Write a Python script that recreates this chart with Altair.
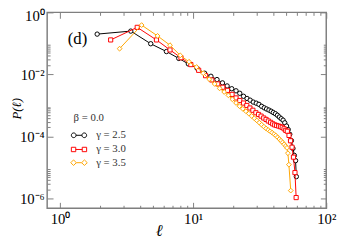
import altair as alt
import pandas as pd

FONT = "Liberation Serif"

# ---- data (l, P(l)) ----
L_G25 = [1.9, 3.4, 4.8, 6.3, 7.8, 9.2, 10.7, 12.2, 13.6, 15.1, 16.6, 18.0, 19.5, 21.0, 22.4,
         23.9, 25.4, 26.8, 28.3, 29.8, 31.2, 32.7, 34.2, 35.6, 37.1, 38.6, 40.0, 41.5, 43.0,
         44.4, 45.9, 47.4, 48.8, 50.3, 51.8, 53.2, 54.7, 56.2, 57.6, 58.8, 59.6]
P_G25 = [0.20, 0.25, 0.098, 0.055, 0.033, 0.022, 0.016, 0.011, 0.0088, 0.0069, 0.0054, 0.0043,
         0.0035, 0.0030, 0.0025, 0.0020, 0.0017, 0.0015, 0.0013, 0.0012, 0.0011, 0.00095,
         0.00085, 0.00078, 0.00072, 0.00066, 0.00060, 0.00055, 0.00049, 0.00043, 0.00038,
         0.00034, 0.00028, 0.00022, 0.00017, 0.00012, 0.000075, 0.000042, 0.000025, 0.000017,
         0.0000052]

L_G30 = [2.4, 3.8, 5.3, 6.7, 8.1, 9.6, 11.0, 12.4, 13.8, 15.3, 16.7, 18.1, 19.6, 21.0, 22.4,
         23.9, 25.3, 26.7, 28.1, 29.6, 31.0, 32.4, 33.9, 35.3, 36.7, 38.2, 39.6, 41.0, 42.4,
         43.9, 45.3, 46.7, 48.2, 49.6, 51.0, 52.5, 53.9, 55.3, 56.7, 58.2, 59.4]
P_G30 = [0.13, 0.33, 0.13, 0.062, 0.0348, 0.0209, 0.0137, 0.0092, 0.0067, 0.0050, 0.0039,
         0.0031, 0.0023, 0.00177, 0.00146, 0.00121, 0.00101, 0.00084, 0.00071, 0.00059,
         0.00052, 0.00046, 0.00040, 0.00036, 0.00032, 0.00029, 0.00026, 0.00024, 0.00023,
         0.00022, 0.00021, 0.00020, 0.00018, 0.00016, 0.00015, 0.00011, 0.000074, 0.000046,
         0.000022, 0.000007, 0.0000011]

L_G35 = [2.8, 4.1, 5.4, 6.7, 8.0, 9.3, 10.6, 11.9, 13.2, 14.5, 15.8, 17.1, 18.4, 19.7, 21.0,
         22.3, 23.6, 24.9, 26.2, 27.5, 28.8, 30.1, 31.4, 32.7, 34.0, 35.3, 36.6, 37.9, 39.2,
         40.5, 41.8, 43.1, 44.4, 45.7, 47.0, 48.3, 49.6, 50.7, 51.5, 52.4, 54.1]
P_G35 = [0.068, 0.39, 0.175, 0.088, 0.0414, 0.0258, 0.0174, 0.0110, 0.0071, 0.0050, 0.0036,
         0.00275, 0.00214, 0.0016, 0.00122, 0.00096, 0.00079, 0.00066, 0.000555, 0.000465,
         0.000393, 0.000333, 0.000284, 0.000243, 0.00021, 0.000184, 0.000165, 0.000149,
         0.000135, 0.000122, 0.000109, 0.0000955, 0.0000841, 0.0000743, 0.0000653, 0.000057,
         0.00005, 0.0000437, 0.0000295, 0.0000126, 0.00000185]

SERIES = ["γ = 2.5", "γ = 3.0", "γ = 3.5"]
COLORS = ["#000000", "#ff0000", "#ffa500"]
SHAPES = ["circle", "square", "diamond"]
MARK_SIZES = [20, 18, 24]

X_MAJOR = [1, 10, 100]
X_MINOR = [2, 3, 4, 5, 6, 7, 8, 9, 20, 30, 40, 50, 60, 70, 80, 90]
Y_MAJOR = [1, 1e-2, 1e-4, 1e-6]
Y_MINOR = [2e-2, 3e-2, 4e-2, 5e-2, 6e-2, 7e-2, 8e-2, 9e-2,
           2e-4, 3e-4, 4e-4, 5e-4, 6e-4, 7e-4, 8e-4, 9e-4,
           2e-6, 3e-6, 4e-6, 5e-6, 6e-6, 7e-6, 8e-6, 9e-6]

W, H = 285, 200
xs = alt.Scale(type="log", domain=[0.8, 100], nice=False)
ys = alt.Scale(type="log", domain=[5e-7, 1], nice=False)

TICK = "#7f7f7f"

# legend symbols: marker - line - marker
LEGEND_PATHS = [
    "M -2.6 0 A 0.8 0.8 0 1 0 -1.0 0 A 0.8 0.8 0 1 0 -2.6 0 Z "
    "M 1.0 0 A 0.8 0.8 0 1 0 2.6 0 A 0.8 0.8 0 1 0 1.0 0 Z M -1.0 0 L 1.0 0",
    "M -2.6 -0.75 L -1.1 -0.75 L -1.1 0.75 L -2.6 0.75 Z "
    "M 1.1 -0.75 L 2.6 -0.75 L 2.6 0.75 L 1.1 0.75 Z M -1.1 0 L 1.1 0",
    "M -2.8 0 L -1.85 -0.95 L -0.9 0 L -1.85 0.95 Z "
    "M 0.9 0 L 1.85 -0.95 L 2.8 0 L 1.85 0.95 Z M -0.9 0 L 0.9 0",
]
LEGEND_Y = [102, 134.5, 148]


def series_layer(i, L, P):
    df = pd.DataFrame({"l": L, "P": P, "series": [SERIES[i]] * len(L)})
    kw = dict(orient="none", legendX=27, legendY=LEGEND_Y[i],
              symbolType=LEGEND_PATHS[i], symbolSize=36, symbolStrokeWidth=1,
              symbolFillColor="white", symbolStrokeColor=COLORS[i],
              labelFont=FONT, labelFontSize=11, labelColor="#333333", labelOffset=12,
              padding=0, titleFont=FONT, titleFontSize=11, titleFontWeight="normal",
              titleColor="#333333", titlePadding=7)
    if i == 0:
        leg = alt.Legend(title="β = 0.0", **kw)
    else:
        leg = alt.Legend(title=None, **kw)
    base = alt.Chart(df).encode(
        x=alt.X("l:Q", scale=xs, axis=None),
        y=alt.Y("P:Q", scale=ys, axis=None),
        stroke=alt.Stroke("series:N",
                          scale=alt.Scale(domain=[SERIES[i]], range=[COLORS[i]]),
                          legend=leg),
    )
    line = base.mark_line(strokeWidth=1)
    pts = base.mark_point(shape=SHAPES[i], size=MARK_SIZES[i], strokeWidth=1,
                          filled=False, fill="white", opacity=1)
    return alt.layer(line, pts)


XLAB = "datum.value == 1 ? '10⁰' : datum.value == 10 ? '10¹' : '10²'"
YLAB = ("datum.value > 0.5 ? '10⁰' : datum.value > 0.005 ? '10⁻²' : "
        "datum.value > 0.00005 ? '10⁻⁴' : '10⁻⁶'")

common = dict(grid=False, domain=False, tickColor=TICK, tickWidth=1)

bottom_major = alt.Axis(orient="bottom", values=X_MAJOR, tickSize={"expr": "-6"},
                        labelExpr=XLAB, labelFont=FONT, labelFontSize=15, labelColor="#000000",
                        labelPadding=10, labelFlush=False, labelOverlap=False,
                        title="ℓ", titleFont=FONT, titleFontSize=17, titleFontStyle="italic",
                        titleFontWeight="normal", titleColor="#000000", titleX=114, titleY=28,
                        titleBaseline="alphabetic", titleAlign="center", **common)
left_major = alt.Axis(orient="left", values=Y_MAJOR, tickSize={"expr": "-6"},
                      labelExpr=YLAB, labelFont=FONT, labelFontSize=15, labelColor="#000000",
                      labelPadding=9, labelFlush=False, labelOverlap=False,
                      labelOffset={"condition": {"test": "datum.value > 0.5", "value": 3}, "value": 0},
                      title="P(ℓ)", titleFont=FONT, titleFontSize=13, titleFontStyle="italic",
                      titleFontWeight="normal", titleColor="#000000", titleX=-31, titleY=98,
                      titleAngle=270, titleAlign="center", titleBaseline="middle", **common)
bottom_minor = alt.Axis(orient="bottom", values=X_MINOR, tickSize={"expr": "-3"},
                        labels=False, title=None, **common)
left_minor = alt.Axis(orient="left", values=Y_MINOR, tickSize={"expr": "-3"},
                      labels=False, title=None, **common)
top_major = alt.Axis(orient="top", values=X_MAJOR, tickSize={"expr": "-6"},
                     labels=False, title=None, **common)
right_major = alt.Axis(orient="right", values=Y_MAJOR, tickSize={"expr": "-6"},
                       labels=False, title=None, **common)
top_minor = alt.Axis(orient="top", values=X_MINOR, tickSize={"expr": "-3"},
                     labels=False, title=None, **common)
right_minor = alt.Axis(orient="right", values=Y_MINOR, tickSize={"expr": "-3"},
                       labels=False, title=None, **common)

df_ax = pd.DataFrame({"l": L_G25, "P": P_G25})


def axis_layer(ax, ay):
    return alt.Chart(df_ax).mark_point(opacity=0).encode(
        x=alt.X("l:Q", scale=xs, axis=ax),
        y=alt.Y("P:Q", scale=ys, axis=ay),
    )


panel_label = alt.Chart(pd.DataFrame({"t": ["(d)"]})).mark_text(
    font=FONT, fontSize=17, color="#000000", baseline="middle", align="center"
).encode(text="t:N", x=alt.value(31), y=alt.value(27))

chart = alt.layer(
    axis_layer(bottom_major, left_major),
    axis_layer(bottom_minor, left_minor),
    axis_layer(top_major, right_major),
    axis_layer(top_minor, right_minor),
    series_layer(0, L_G25, P_G25),
    series_layer(1, L_G30, P_G30),
    series_layer(2, L_G35, P_G35),
    panel_label,
).resolve_scale(stroke="independent").resolve_axis(
    x="independent", y="independent"
).properties(
    width=W, height=H,
    autosize=alt.AutoSizeParams(type="none"),
    padding={"left": 40, "top": 2, "right": 12, "bottom": 32},
    background="white",
).configure_view(stroke=TICK, strokeWidth=1.5)

chart.save("out.html", embed_options={"renderer": "svg", "actions": False})
